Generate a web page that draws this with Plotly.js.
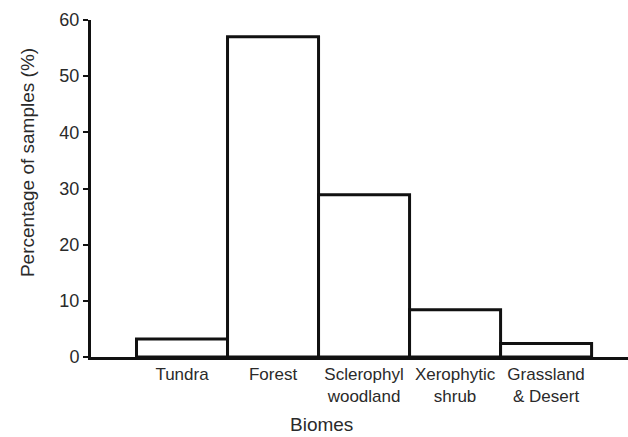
<!DOCTYPE html>
<html>
<head>
<meta charset="utf-8">
<script src="https://cdn.plot.ly/plotly-3.0.1.min.js"></script>
<style>html,body{margin:0;padding:0;background:#fff;}#chart{width:628px;height:437px;}</style>
</head>
<body>
<div id="chart"></div>
<script>
var biomes = ["Tundra", "Forest", "Sclerophyl<br>woodland", "Xerophytic<br>shrub", "Grassland<br>& Desert"];
var percentages = [3.2, 57, 28.9, 8.4, 2.4];
var yTickVals = [0, 10, 20, 30, 40, 50, 60];
var xTitle = "Biomes";
var yTitle = "Percentage of samples (%)";

var trace = {
  type: "bar",
  x: biomes,
  y: percentages,
  width: 1,
  marker: {color: "#ffffff", line: {color: "#111111", width: 3}},
  hoverinfo: "x+y"
};

var layout = {
  width: 628, height: 437,
  margin: {l: 91, r: 0, t: 20, b: 80},
  paper_bgcolor: "#ffffff", plot_bgcolor: "#ffffff",
  showlegend: false,
  font: {family: "Liberation Sans, Arial, sans-serif", color: "#2a2a2a", size: 17},
  xaxis: {
    type: "category",
    range: [-1, 4.9],
    showline: true, linecolor: "#111111", linewidth: 2.5,
    ticks: "", showgrid: false, zeroline: false,
    tickfont: {size: 17, color: "#2a2a2a"},
    fixedrange: true
  },
  yaxis: {
    range: [0, 60],
    tickvals: yTickVals,
    showline: true, linecolor: "#111111", linewidth: 3,
    ticks: "outside", ticklen: 5, tickwidth: 2, tickcolor: "#111111",
    showgrid: false, zeroline: false,
    tickfont: {size: 18, color: "#2a2a2a"},
    fixedrange: true
  },
  annotations: [
    {text: yTitle, xref: "paper", yref: "paper", x: -0.117, y: 0.576,
     xanchor: "center", yanchor: "middle", textangle: -90, showarrow: false,
     font: {size: 19, color: "#2a2a2a"}},
    {text: xTitle, xref: "paper", yref: "paper", x: 0.43, y: -0.199,
     xanchor: "center", yanchor: "middle", showarrow: false,
     font: {size: 19, color: "#2a2a2a"}}
  ]
};

Plotly.newPlot("chart", [trace], layout, {staticPlot: true, displayModeBar: false});
</script>
</body>
</html>
